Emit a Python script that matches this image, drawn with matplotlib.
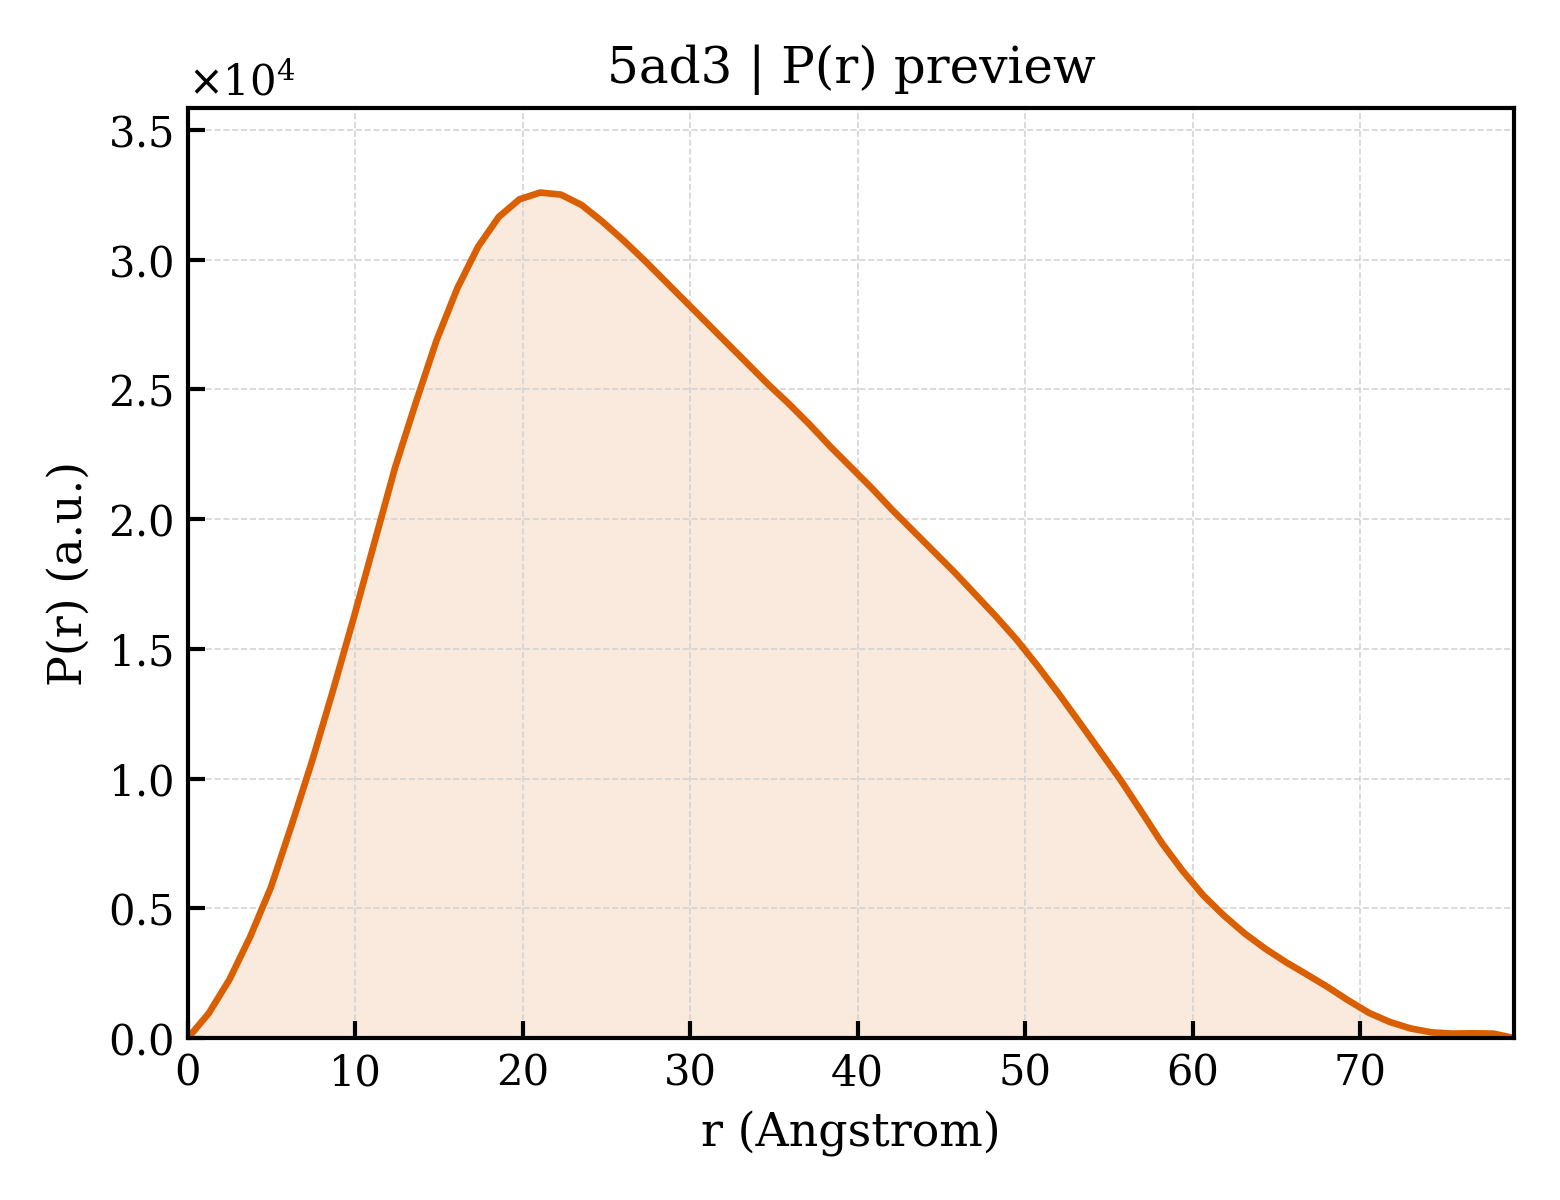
import numpy as np
import matplotlib
matplotlib.use('Agg')
import matplotlib.pyplot as plt
from matplotlib.ticker import ScalarFormatter

# P(r) values (units of 1e4), r spacing ~1.2375 A
r_max = 79.2
p_vals = [0.0, 0.095, 0.225, 0.39, 0.58, 0.82, 1.07, 1.34, 1.62, 1.91,
          2.20, 2.45, 2.69, 2.89, 3.05, 3.165, 3.233, 3.259, 3.251, 3.211,
          3.147, 3.076, 3.00, 2.92, 2.84, 2.76, 2.68, 2.60, 2.52, 2.445,
          2.365, 2.28, 2.20, 2.12, 2.035, 1.955, 1.875, 1.795, 1.71, 1.625,
          1.535, 1.435, 1.33, 1.22, 1.108, 0.996, 0.875, 0.752, 0.645, 0.55,
          0.472, 0.403, 0.344, 0.292, 0.245, 0.197, 0.145, 0.097, 0.062, 0.037,
          0.022, 0.017, 0.018, 0.017, 0.0]

pr = np.array(p_vals) * 1e4
r = np.linspace(0, r_max, len(pr))

plt.rcParams['font.family'] = 'DejaVu Serif'
plt.rcParams['font.size'] = 10

fig, ax = plt.subplots(figsize=(5.2, 4), dpi=300)
fig.subplots_adjust(left=0.1205, right=0.9705, bottom=0.135, top=0.91)

c = '#d95f02'
ax.plot(r, pr, color=c, lw=1.6)
ax.fill_between(r, pr, 0, color=c, alpha=0.13, lw=0)

ax.set_xlim(0, r_max)
ax.set_ylim(0, pr.max() * 1.1)
ax.set_xticks(np.arange(0, 80, 10))

fmt = ScalarFormatter(useMathText=True)
fmt.set_powerlimits((0, 0))
ax.yaxis.set_major_formatter(fmt)

ax.tick_params(direction='in', length=4, width=1.0, labelsize=10)
for s in ax.spines.values():
    s.set_linewidth(1.0)
ax.grid(True, ls='--', lw=0.4, color='#d0d0d0', alpha=0.9)

ax.set_xlabel('r (Angstrom)', fontsize=11)
ax.set_ylabel('P(r) (a.u.)', fontsize=11)
ax.set_title('5ad3 | P(r) preview', fontsize=12)

fig.savefig('out.png', dpi=300)
